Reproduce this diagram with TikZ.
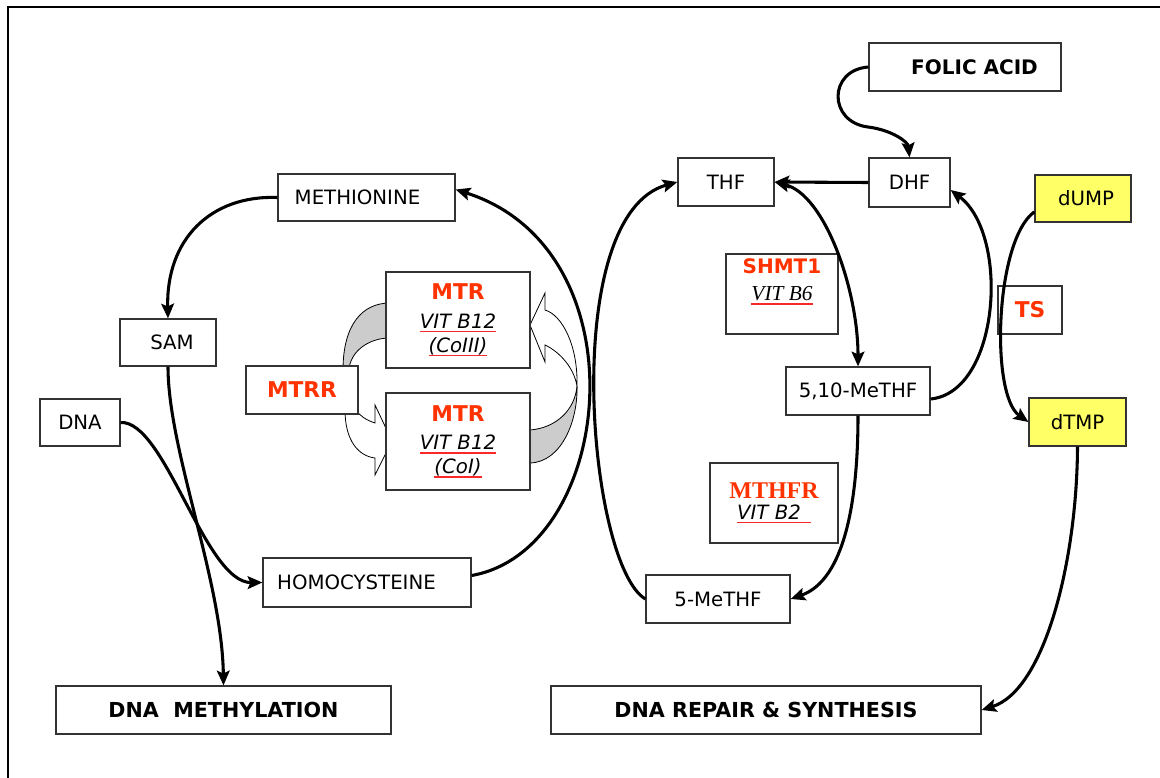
\documentclass[tikz,border=0pt]{standalone}
\usepackage{fontspec}
\setmainfont{DejaVu Sans}
\newfontfamily\tnr{Liberation Serif}
\usetikzlibrary{arrows.meta}
\definecolor{enzred}{RGB}{255,51,0}
\definecolor{nuclyellow}{RGB}{255,255,102}
\definecolor{ribgray}{RGB}{204,204,204}
\definecolor{boxline}{RGB}{51,51,51}
\definecolor{squigred}{RGB}{250,40,40}
\newcommand{\squig}[1]{\setbox0\hbox{#1}\leavevmode\rlap{\color{squigred}\rule[-2.8pt]{\wd0}{1.1pt}}\box0}
\newcommand{\nf}{\fontsize{14.8pt}{18pt}\selectfont}
\newcommand{\ef}{\fontsize{16.3pt}{18pt}\selectfont\bfseries\color{enzred}}
\begin{document}
\begin{tikzpicture}[x=0.75pt,y=-0.75pt,
  box/.style={draw=boxline, line width=0.9pt, fill=white, inner sep=0pt, font=\nf},
  sz/.style 2 args={minimum width=#1*0.75pt, minimum height=#2*0.75pt},
  conn/.style={line width=2.3pt, -{Stealth[length=11pt,width=9.5pt,inset=2pt]}},
  biconn/.style={line width=2.3pt, {Stealth[length=11pt,width=9.5pt,inset=2pt]}-{Stealth[length=11pt,width=9.5pt,inset=2pt]}},
  ribbon/.style={draw=black, line width=0.6pt}]
\useasboundingbox (0,0) rectangle (1160,778);
% outer frame
\draw[line width=2.2pt] (8,820) -- (8,7) -- (1200,7);

% ribbon arrows around MTR
\draw[ribbon, fill=ribgray] (390,303) .. controls (362,303) and (343,325) .. (343,370)
   -- (349,370) .. controls (350,352) and (368,338) .. (390,338) -- cycle;
\draw[ribbon, fill=white] (345,410) .. controls (345,440) and (358,456) .. (375,458)
   -- (375,475) -- (392,441) -- (375,405) -- (375,423)
   .. controls (366,420) and (360,416) .. (356,410) -- cycle;
\draw[ribbon, fill=ribgray] (526,430) -- (530,430) .. controls (556,428) and (575,410) .. (577,386)
   .. controls (578,420) and (562,462) .. (530,463) -- (526,463) -- cycle;
\draw[ribbon, fill=white] (577,386) .. controls (578,345) and (562,315) .. (545,310)
   -- (545,293) -- (530,325) -- (545,362) -- (545,345)
   .. controls (560,352) and (574,368) .. (577,386) -- cycle;

% boxes
\node[box, sz={177}{47}] (meth) at (366.5,197.5) {METHIONINE\kern13.5pt};
\node[box, sz={96}{47}] (sam) at (168,342.5) {\kern6pt SAM};
\node[box, sz={80}{47}] (dna) at (80,422.5) {DNA};
\node[box, sz={144}{96}, align=center] (mtrt) at (458,320)
   {{\ef MTR}\\[3.5pt]\squig{\itshape VIT B12}\\\squig{\itshape (CoIII)}};
\node[box, sz={144}{97}, align=center] (mtrb) at (458,441.5)
   {{\ef MTR}\\[3.5pt]\squig{\itshape VIT B12}\\\squig{\itshape (CoI)}};
\node[box, sz={112}{48}] (mtrr) at (302,390) {\ef MTRR};
\node[box, sz={208}{49}] (homo) at (367,582.5) {HOMOCYSTEINE\kern15.75pt};
\node[box, sz={335}{48}] (dnameth) at (223.5,710)
   {\fontsize{15.5pt}{18pt}\selectfont\bfseries DNA\ \ METHYLATION};
\node[box, sz={96}{48}] (thf) at (726,182) {THF};
\node[box, sz={81}{49}] (dhf) at (909.5,182.5) {DHF};
\node[box, sz={192}{48}] (folic) at (965,67)
   {\kern14.25pt\fontsize{15pt}{18pt}\selectfont\bfseries FOLIC ACID};
\node[box, sz={96}{47}, fill=nuclyellow] (dump) at (1083,198.5) {\kern4.5pt dUMP};
\node[box, sz={64}{48}] (ts) at (1030,310) {\ef TS};
\node[box, sz={112}{80}, align=center] (shmt) at (782,294)
   {{\fontsize{15pt}{18pt}\selectfont\bfseries\color{enzred}SHMT1}\\[2.25pt]
    {\tnr\fontsize{16pt}{18pt}\selectfont\squig{\itshape VIT B6}}\\[3pt]};
\node[box, sz={144}{48}] (m510) at (858,391) {5,10-MeTHF};
\node[box, sz={97}{48}, fill=nuclyellow] (dtmp) at (1077.5,422) {dTMP};
\node[box, sz={128}{80}, align=center] (mthfr) at (774,503)
   {{\tnr\fontsize{18pt}{18pt}\selectfont\bfseries\color{enzred}MTHFR}\\[-2.25pt]
    \squig{\itshape VIT B2\kern7.5pt}};
\node[box, sz={144}{48}] (m5) at (718,599) {5-MeTHF};
\node[box, sz={430}{48}] (dnarep) at (766,710)
   {\fontsize{15.5pt}{18pt}\selectfont\bfseries DNA REPAIR \& SYNTHESIS};

% connectors
\draw[conn] (meth.west) .. controls (210,195) and (166,240) .. (sam.north);
\draw[conn] (sam.south) .. controls (168,450) and (222,580) .. (dnameth.north);
\draw[conn] (dna.east) .. controls (165,420) and (205,583) .. (homo.west);
\draw[conn] ([yshift=5.25pt]homo.east) .. controls (615,550) and (645,250) .. ([yshift=6pt]meth.east);
\draw[conn] (m5.west) .. controls (588,565) and (558,215) .. (thf.west);
\draw[conn] (dhf.west) -- (thf.east);
\draw[conn] (folic.west) .. controls (828,70) and (828,122) .. (868,127)
   .. controls (892,130) and (908,142) .. (dhf.north);
\draw[biconn] (thf.east) .. controls (825,195) and (858,290) .. (m510.north);
\draw[conn] ([yshift=-6pt]m510.east) .. controls (1000,392) and (1010,235) .. ([yshift=-5.6pt]dhf.east);
\draw[conn] ([yshift=-10pt]dump.west) .. controls (995,240) and (990,395) .. (dtmp.west);
\draw[conn] (m510.south) .. controls (858,500) and (845,580) .. (m5.east);
\draw[conn] (dtmp.south) .. controls (1077,560) and (1045,690) .. (dnarep.east);
\end{tikzpicture}
\end{document}
